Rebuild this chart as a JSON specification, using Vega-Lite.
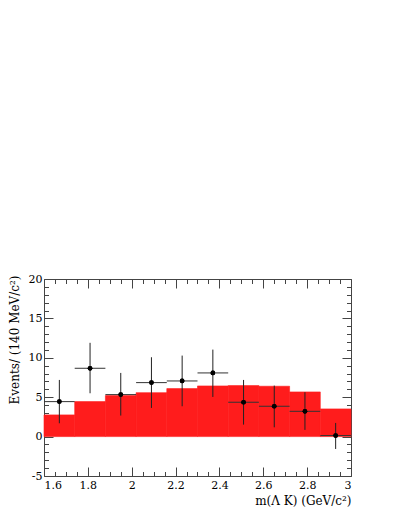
{
  "$schema": "https://vega.github.io/schema/vega-lite/v6.json",
  "width": 307,
  "height": 197,
  "autosize": {"type": "none"},
  "padding": {"left": 44, "top": 279, "right": 48, "bottom": 40},
  "background": "white",
  "config": {
    "font": "DejaVu Serif",
    "view": {"stroke": "#444", "strokeWidth": 1},
    "axis": {"labelFont": "DejaVu Serif", "titleFont": "DejaVu Serif", "labelColor": "black", "titleColor": "black", "domainColor": "#444", "tickColor": "#444", "grid": false, "titleFontWeight": "normal"}
  },
  "datasets": {
    "hist": [
      {"lo": 1.60, "hi": 1.74, "n": 2.75},
      {"lo": 1.74, "hi": 1.88, "n": 4.44},
      {"lo": 1.88, "hi": 2.02, "n": 5.2},
      {"lo": 2.02, "hi": 2.16, "n": 5.58},
      {"lo": 2.16, "hi": 2.30, "n": 6.09},
      {"lo": 2.30, "hi": 2.44, "n": 6.43},
      {"lo": 2.44, "hi": 2.58, "n": 6.47},
      {"lo": 2.58, "hi": 2.72, "n": 6.39},
      {"lo": 2.72, "hi": 2.86, "n": 5.67},
      {"lo": 2.86, "hi": 3.00, "n": 3.51}
    ],
    "pts": [
      {"m": 1.67, "mlo": 1.60, "mhi": 1.74, "n": 4.44, "nlo": 1.69, "nhi": 7.19},
      {"m": 1.81, "mlo": 1.74, "mhi": 1.88, "n": 8.67, "nlo": 5.5, "nhi": 11.9},
      {"m": 1.95, "mlo": 1.88, "mhi": 2.02, "n": 5.33, "nlo": 2.67, "nhi": 8.08},
      {"m": 2.09, "mlo": 2.02, "mhi": 2.16, "n": 6.85, "nlo": 3.64, "nhi": 10.07},
      {"m": 2.23, "mlo": 2.16, "mhi": 2.30, "n": 7.06, "nlo": 3.85, "nhi": 10.28},
      {"m": 2.37, "mlo": 2.30, "mhi": 2.44, "n": 8.08, "nlo": 5.03, "nhi": 11.04},
      {"m": 2.51, "mlo": 2.44, "mhi": 2.58, "n": 4.36, "nlo": 1.52, "nhi": 7.19},
      {"m": 2.65, "mlo": 2.58, "mhi": 2.72, "n": 3.85, "nlo": 1.18, "nhi": 6.47},
      {"m": 2.79, "mlo": 2.72, "mhi": 2.86, "n": 3.21, "nlo": 0.85, "nhi": 5.63},
      {"m": 2.93, "mlo": 2.86, "mhi": 3.00, "n": 0.13, "nlo": -1.57, "nhi": 1.73}
    ]
  },
  "resolve": {"axis": {"x": "independent", "y": "independent"}},
  "layer": [
    {
      "data": {"name": "hist"},
      "mark": {"type": "rect", "fill": "#ff1c1c", "stroke": "#ff1c1c", "strokeWidth": 0.6},
      "encoding": {
        "x": {"field": "lo", "type": "quantitative", "scale": {"domain": [1.6, 3], "nice": false, "zero": false},
          "axis": {"orient": "bottom", "values": [1.6, 1.8, 2, 2.2, 2.4, 2.6, 2.8, 3], "labelExpr": "datum.value + ''", "ticks": false, "domain": false, "labelFontSize": 11, "labelPadding": 3,
            "title": "m(Λ K) (GeV/c²)", "titleFontSize": 12, "titleAnchor": "end", "titlePadding": 5}},
        "x2": {"field": "hi"},
        "y": {"field": "n", "type": "quantitative", "scale": {"domain": [-5, 20], "nice": false, "zero": false},
          "axis": {"orient": "left", "values": [-5, 0, 5, 10, 15, 20], "labelExpr": "datum.value + ''", "ticks": false, "domain": false, "labelFontSize": 11, "labelPadding": 2,
            "title": "Events/ (140 MeV/c²)", "titleFontSize": 12, "titleAnchor": "end", "titlePadding": 7, "titleY": -4}},
        "y2": {"datum": 0}
      }
    },
    {
      "data": {"name": "pts"},
      "mark": {"type": "rule", "color": "#333", "strokeWidth": 1},
      "encoding": {
        "x": {"field": "mlo", "type": "quantitative", "axis": {"orient": "bottom", "values": [1.6, 1.8, 2, 2.2, 2.4, 2.6, 2.8, 3], "labels": false, "domain": false, "tickSize": -9, "title": null}},
        "x2": {"field": "mhi"},
        "y": {"field": "n", "type": "quantitative", "axis": {"orient": "left", "values": [-5, 0, 5, 10, 15, 20], "labels": false, "domain": false, "tickSize": -9, "title": null}}
      }
    },
    {
      "data": {"name": "pts"},
      "mark": {"type": "rule", "color": "#222", "strokeWidth": 1},
      "encoding": {
        "x": {"field": "m", "type": "quantitative", "axis": {"orient": "bottom", "values": [1.65, 1.7, 1.75, 1.85, 1.9, 1.95, 2.05, 2.1, 2.15, 2.25, 2.3, 2.35, 2.45, 2.5, 2.55, 2.65, 2.7, 2.75, 2.85, 2.9, 2.95], "labels": false, "domain": false, "tickSize": -4.5, "title": null}},
        "y": {"field": "nlo", "type": "quantitative", "axis": {"orient": "left", "values": [-4, -3, -2, -1, 1, 2, 3, 4, 6, 7, 8, 9, 11, 12, 13, 14, 16, 17, 18, 19], "labels": false, "domain": false, "tickSize": -4.5, "title": null}},
        "y2": {"field": "nhi"}
      }
    },
    {
      "data": {"name": "pts"},
      "mark": {"type": "point", "filled": true, "color": "black", "size": 22, "opacity": 1, "shape": "circle"},
      "encoding": {
        "x": {"field": "m", "type": "quantitative", "axis": {"orient": "top", "values": [1.6, 1.8, 2, 2.2, 2.4, 2.6, 2.8, 3], "labels": false, "domain": false, "tickSize": -9, "title": null}},
        "y": {"field": "n", "type": "quantitative", "axis": {"orient": "right", "values": [-5, 0, 5, 10, 15, 20], "labels": false, "domain": false, "tickSize": -9, "title": null}}
      }
    },
    {
      "data": {"name": "pts"},
      "mark": {"type": "point", "filled": true, "color": "black", "size": 22, "opacity": 1, "shape": "circle"},
      "encoding": {
        "x": {"field": "m", "type": "quantitative", "axis": {"orient": "top", "values": [1.65, 1.7, 1.75, 1.85, 1.9, 1.95, 2.05, 2.1, 2.15, 2.25, 2.3, 2.35, 2.45, 2.5, 2.55, 2.65, 2.7, 2.75, 2.85, 2.9, 2.95], "labels": false, "domain": false, "tickSize": -4.5, "title": null}},
        "y": {"field": "n", "type": "quantitative", "axis": {"orient": "right", "values": [-4, -3, -2, -1, 1, 2, 3, 4, 6, 7, 8, 9, 11, 12, 13, 14, 16, 17, 18, 19], "labels": false, "domain": false, "tickSize": -4.5, "title": null}}
      }
    }
  ]
}
